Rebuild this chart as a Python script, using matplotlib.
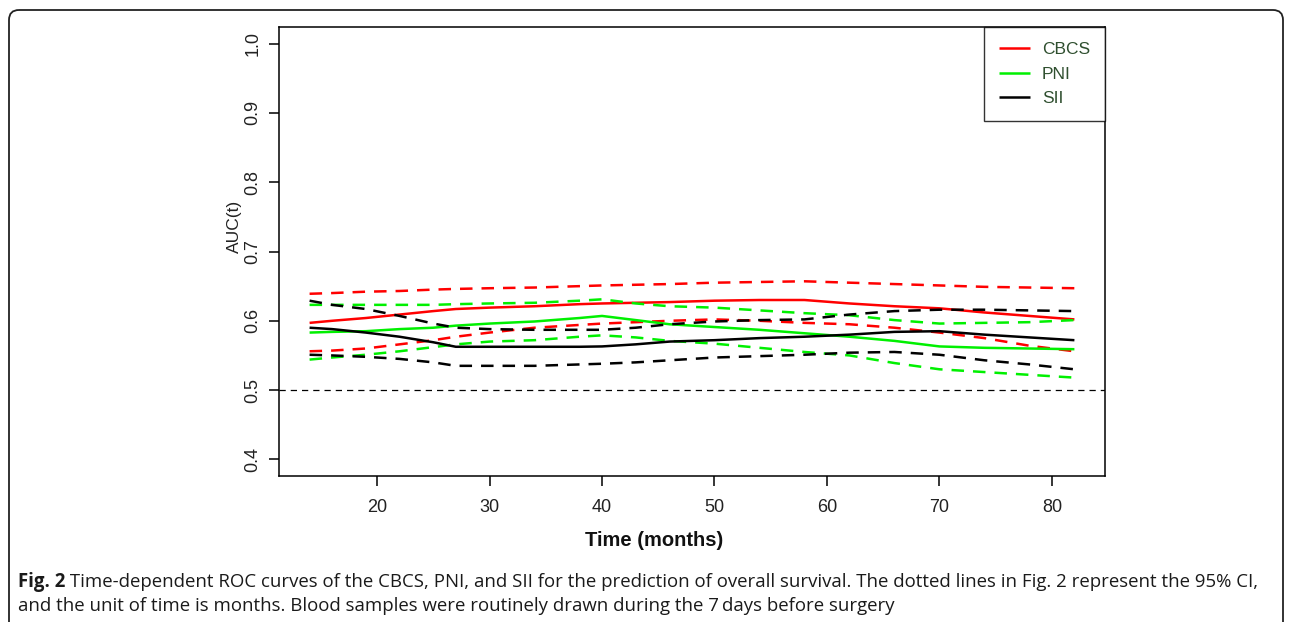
import matplotlib
matplotlib.use('Agg')
import matplotlib.pyplot as plt
from matplotlib.patches import FancyBboxPatch

# ---------------- data ----------------
months = [14, 16, 19, 22, 25, 27, 30, 34, 38, 40, 43, 46, 50, 54, 58, 62, 66, 70, 74, 78, 82]

cbcs     = [0.597, 0.600, 0.604, 0.609, 0.614, 0.617, 0.619, 0.621, 0.624, 0.625, 0.626,
            0.627, 0.629, 0.630, 0.630, 0.625, 0.621, 0.618, 0.612, 0.607, 0.602]
cbcs_hi  = [0.639, 0.640, 0.642, 0.643, 0.645, 0.646, 0.647, 0.648, 0.650, 0.651, 0.652,
            0.653, 0.655, 0.656, 0.657, 0.655, 0.653, 0.651, 0.649, 0.648, 0.647]
cbcs_lo  = [0.556, 0.557, 0.560, 0.566, 0.572, 0.577, 0.583, 0.590, 0.594, 0.596, 0.598,
            0.600, 0.602, 0.600, 0.597, 0.595, 0.590, 0.583, 0.575, 0.564, 0.556]

pni      = [0.583, 0.584, 0.585, 0.588, 0.590, 0.593, 0.596, 0.599, 0.604, 0.607, 0.601,
            0.595, 0.591, 0.587, 0.582, 0.577, 0.571, 0.563, 0.561, 0.560, 0.559]
pni_hi   = [0.623, 0.623, 0.623, 0.623, 0.623, 0.624, 0.625, 0.626, 0.629, 0.631, 0.625,
            0.621, 0.619, 0.615, 0.611, 0.608, 0.601, 0.596, 0.597, 0.598, 0.601]
pni_lo   = [0.544, 0.547, 0.551, 0.556, 0.562, 0.566, 0.570, 0.572, 0.577, 0.579, 0.576,
            0.571, 0.567, 0.561, 0.555, 0.550, 0.539, 0.530, 0.526, 0.522, 0.518]

sii      = [0.590, 0.588, 0.583, 0.577, 0.569, 0.5625, 0.5625, 0.5625, 0.5625, 0.563, 0.566,
            0.570, 0.572, 0.575, 0.577, 0.580, 0.584, 0.585, 0.580, 0.576, 0.572]
sii_hi   = [0.629, 0.623, 0.617, 0.607, 0.596, 0.590, 0.588, 0.587, 0.587, 0.587, 0.590,
            0.595, 0.599, 0.601, 0.602, 0.609, 0.614, 0.616, 0.616, 0.615, 0.614]
sii_lo   = [0.551, 0.550, 0.548, 0.545, 0.540, 0.535, 0.535, 0.535, 0.537, 0.538, 0.540,
            0.543, 0.547, 0.549, 0.551, 0.554, 0.555, 0.551, 0.543, 0.537, 0.530]

series_names = ["CBCS", "PNI", "SII"]
series_colors = ["#ff0000", "#00f000", "#000000"]
reference_auc = 0.5
y_ticks = [0.4, 0.5, 0.6, 0.7, 0.8, 0.9, 1.0]
x_ticks = [20, 30, 40, 50, 60, 70, 80]

caption_bold = "Fig. 2"
caption_line1 = (" Time-dependent ROC curves of the CBCS, PNI, and SII for the prediction of "
                 "overall survival. The dotted lines in Fig. 2 represent the 95% CI,")
caption_line2 = ("and the unit of time is months. Blood samples were routinely drawn during "
                 "the 7\u2009days before surgery")

# ---------------- figure ----------------
W, H = 1292, 622
fig = plt.figure(figsize=(W / 100, H / 100), dpi=100)
fig.patch.set_facecolor('white')
plt.rcParams['font.family'] = ['Liberation Sans', 'DejaVu Sans']

def px_rect(x0, y0, x1, y1):
    return [x0 / W, 1 - y1 / H, (x1 - x0) / W, (y1 - y0) / H]

# background layer (pixel coordinates) for the rounded frame
bg = fig.add_axes([0, 0, 1, 1], zorder=-5)
bg.set_xlim(0, W)
bg.set_ylim(H, 0)
bg.axis('off')
frame = FancyBboxPatch((9, 10), 1283 - 9, 700, boxstyle="round,pad=0,rounding_size=10",
                       fill=False, edgecolor='#222222', linewidth=1.3)
bg.add_patch(frame)

AX_L, AX_T, AX_R, AX_B = 279, 27, 1105, 476
ax = fig.add_axes(px_rect(AX_L, AX_T, AX_R, AX_B))

lw = 1.8
dash = (0, (5.0, 3.6))
groups = [(cbcs, cbcs_hi, cbcs_lo), (pni, pni_hi, pni_lo), (sii, sii_hi, sii_lo)]
handles = []
for (mid, hi, lo), name, col in zip(groups, series_names, series_colors):
    h, = ax.plot(months, mid, color=col, lw=lw, label=name, solid_capstyle='butt')
    ax.plot(months, hi, color=col, lw=lw, linestyle=dash, dash_capstyle='butt')
    ax.plot(months, lo, color=col, lw=lw, linestyle=dash, dash_capstyle='butt')
    handles.append(h)

ax.axhline(reference_auc, color='black', lw=0.9, linestyle=(0, (5, 4)))

ax.set_xlim(11.28, 84.72)
ax.set_ylim(0.376, 1.024)
ax.set_xticks(x_ticks)
ax.set_xticklabels([str(v) for v in x_ticks])
ax.set_yticks(y_ticks)
ax.set_yticklabels([f"{v:.1f}" for v in y_ticks], rotation=90, va='center')

for s in ax.spines.values():
    s.set_linewidth(1.1)
    s.set_color('black')
ax.tick_params(axis='both', direction='out', length=7.5, width=1.1, labelsize=13,
               colors='black', labelcolor='#222222', pad=5)
ax.tick_params(axis='x', pad=9)

ax.set_xlabel("Time (months)", fontsize=14.5, fontweight='bold', color='#111111')
ax.xaxis.label.set_va('center')
ax.xaxis.set_label_coords((654 - AX_L) / (AX_R - AX_L), (AX_B - 541) / (AX_B - AX_T))
fig.text(234 / W, 1 - 226 / H, "AUC(t)", rotation=90, ha='center', va='center',
         fontsize=12.5, color='#222222')

leg = ax.legend(handles=handles, loc='upper right', bbox_to_anchor=(1.0, 1.0), borderaxespad=0,
                frameon=True, fancybox=False, edgecolor='black', fontsize=12.5,
                handlelength=1.8, handletextpad=0.7, labelspacing=0.55, borderpad=0.85)
leg.get_frame().set_linewidth(1.0)
for t in leg.get_texts():
    t.set_color('#2f4f2f')

# ---------------- caption ----------------
cap_font = ['Open Sans', 'DejaVu Sans']
fig.canvas.draw()
renderer = fig.canvas.get_renderer()
target = 1262 - 18
fs = 12.0
for _ in range(3):
    tb = fig.text(0, 0, caption_bold, fontsize=fs, fontweight='bold', family=cap_font)
    tr = fig.text(0, 0, caption_line1, fontsize=fs, family=cap_font)
    wtot = tb.get_window_extent(renderer).width + tr.get_window_extent(renderer).width
    tb.remove(); tr.remove()
    fs = fs * target / wtot

tb = fig.text(18 / W, 1 - 582 / H, caption_bold, fontsize=fs, fontweight='bold',
              family=cap_font, va='center', color='#1a1a1a')
wb = tb.get_window_extent(renderer).width
fig.text((18 + wb) / W, 1 - 582 / H, caption_line1, fontsize=fs, family=cap_font,
         va='center', color='#1a1a1a')
fig.text(18 / W, 1 - 606 / H, caption_line2, fontsize=fs, family=cap_font,
         va='center', color='#1a1a1a')

fig.savefig('out.png', dpi=100, facecolor='white')
